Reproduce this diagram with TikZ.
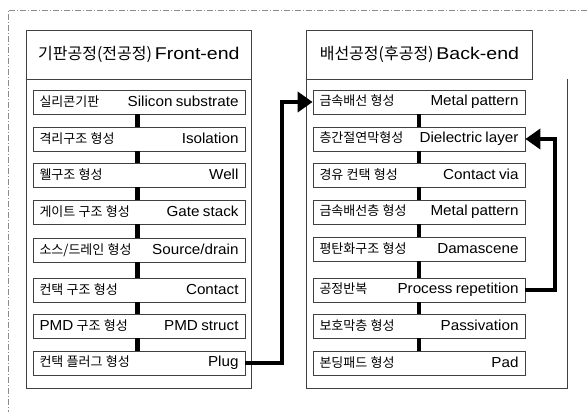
\documentclass[tikz,border=0pt]{standalone}
\usepackage{fontspec}
\setmainfont{Liberation Sans}
\newfontfamily\krfont{Noto Sans CJK KR}
\newfontfamily\enwide[FakeStretch=1.05]{Liberation Sans}
\newfontfamily\enhead[FakeStretch=1.15]{Liberation Sans}
\usetikzlibrary{arrows.meta}
\newcommand\krs{\krfont\fontsize{13}{15}\selectfont}
\newcommand\ens{\enwide\fontsize{14.5}{17}\selectfont}
\newcommand\krh{\krfont\fontsize{16}{18}\selectfont}
\newcommand\enh{\enhead\fontsize{17}{20}\selectfont}
\newcommand\stp[2]{{\krs #1}\hfill{\ens #2}}
\tikzset{
  frameline/.style={draw=black!75, line width=0.8pt},
  outerframe/.style={draw=black!45, line width=0.7pt, dash pattern=on 6pt off 2pt on 1pt off 2pt},
  stepbox/.style={frameline, minimum height=24pt, text width=199pt, inner xsep=6.5pt, inner ysep=0pt, anchor=center},
  headbox/.style={frameline, minimum width=225pt, minimum height=49pt, inner sep=0pt, anchor=north west},
  link/.style={line width=4.5pt, draw=black},
  flow/.style={line width=4.5pt, draw=black, -{Triangle[length=15pt,width=20pt]}},
}
\begin{document}
\begin{tikzpicture}[x=1pt,y=-1pt]
\useasboundingbox (0,0) rectangle (587,412);
% outer dashed frame
\draw[outerframe] (587,10) -- (8,10) -- (8,412);

% left column
\node[headbox] (lh) at (26,30) {{\krh 기판공정(전공정)} {\enh Front-end}};
\draw[frameline] (26,79) rectangle (251,388);
\node[stepbox] (l1) at (139,102) {\stp{실리콘기판}{Silicon substrate}};
\node[stepbox] (l2) at (139,139) {\stp{격리구조 형성}{Isolation}};
\node[stepbox] (l3) at (139,175) {\stp{웰구조 형성}{Well}};
\node[stepbox] (l4) at (139,212) {\stp{게이트 구조 형성}{Gate stack}};
\node[stepbox] (l5) at (139,250) {\stp{소스/드레인 형성}{Source/drain}};
\node[stepbox] (l6) at (139,290) {\stp{컨택 구조 형성}{Contact}};
\node[stepbox] (l7) at (139,326) {\stp{{\ens PMD} 구조 형성}{PMD struct}};
\node[stepbox] (l8) at (139,363) {\stp{컨택 플러그 형성}{Plug}};
\foreach \a/\b in {l1/l2,l2/l3,l3/l4,l4/l5,l5/l6,l6/l7,l7/l8}
  \draw[link] ([xshift=-1.5pt]\a.south) -- ([xshift=-1.5pt]\b.north);

% right column
\node[headbox, minimum width=226pt] (rh) at (306,30) {{\krh 배선공정(후공정)} {\enh Back-end}};
\draw[frameline] (306,79) -- (306,388) -- (567,388) -- (567,79);
\node[stepbox] (r1) at (419,102) {\stp{금속배선 형성}{Metal pattern}};
\node[stepbox] (r2) at (419,139) {\stp{층간절연막형성}{Dielectric layer}};
\node[stepbox] (r3) at (419,175) {\stp{경유 컨택 형성}{Contact via}};
\node[stepbox] (r4) at (419,212) {\stp{금속배선층 형성}{Metal pattern}};
\node[stepbox] (r5) at (419,249) {\stp{평탄화구조 형성}{Damascene}};
\node[stepbox] (r6) at (419,290) {\stp{공정반복}{Process repetition}};
\node[stepbox] (r7) at (419,326) {\stp{보호막층 형성}{Passivation}};
\node[stepbox] (r8) at (419,363) {\stp{본딩패드 형성}{Pad}};
\foreach \a/\b in {r1/r2,r2/r3,r3/r4,r4/r5,r5/r6,r6/r7,r7/r8}
  \draw[link] (\a.south) -- (\b.north);

% flow arrows
\coordinate (j1) at (282,363);
\coordinate (j2) at (555,290);
\draw[flow] (l8.east) -- (j1) |- (r1.west);
\draw[flow] (r6.east) -- (j2) |- (r2.east);
\end{tikzpicture}
\end{document}
